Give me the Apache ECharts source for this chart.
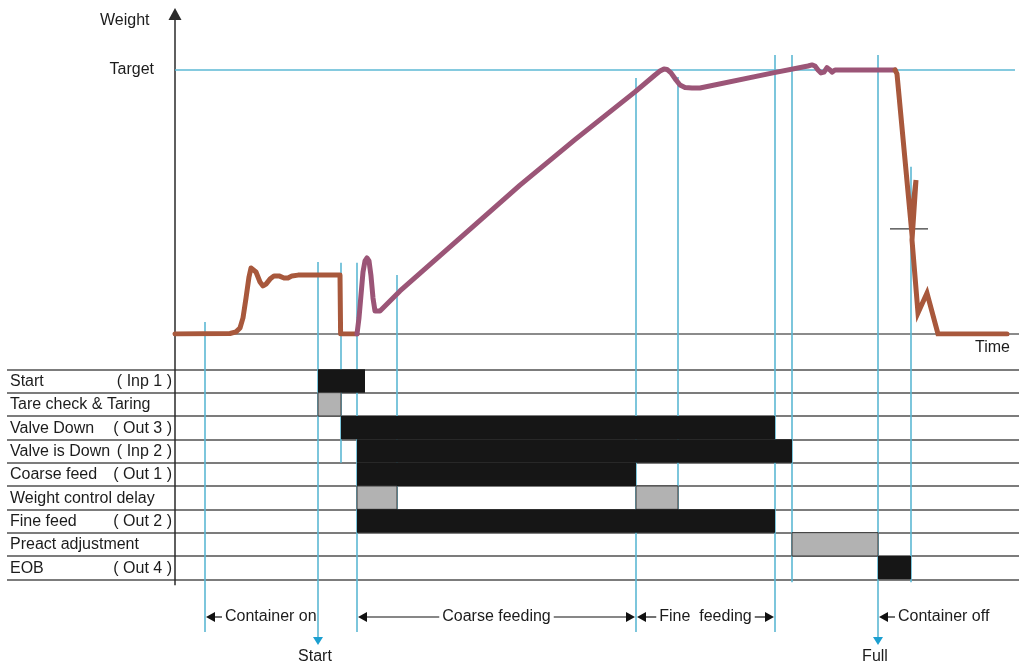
<!DOCTYPE html>
<html>
<head>
<meta charset="utf-8">
<script src="https://cdn.jsdelivr.net/npm/echarts@6/dist/echarts.min.js"></script>
<style>
  html, body { margin: 0; padding: 0; background: #ffffff; }
  #chart { width: 1019px; height: 666px; }
</style>
</head>
<body>
<div id="chart"></div>
<script>
// ---- Signal rows of the filling cycle ----
const rowNames = ['Start', 'Tare check & Taring', 'Valve Down', 'Valve is Down', 'Coarse feed',
                  'Weight control delay', 'Fine feed', 'Preact adjustment', 'EOB'];
const rowPorts = ['( Inp 1 )', '', '( Out 3 )', '( Inp 2 )', '( Out 1 )', '', '( Out 2 )', '', '( Out 4 )'];

// Active periods: [row, on time, off time, 1 = I/O signal / 0 = internal timer]
const signalBlocks = [
  [0, 7.15, 9.5, 1],
  [1, 7.15, 8.3, 0],
  [2, 8.3, 30.0, 1],
  [3, 9.1, 30.85, 1],
  [4, 9.1, 23.05, 1],
  [5, 9.1, 11.1, 0],
  [5, 23.05, 25.15, 0],
  [6, 9.1, 30.0, 1],
  [7, 30.85, 35.15, 0],
  [8, 35.15, 36.8, 1]
];

// Event markers: time, weight where the marker starts, how far down it reaches
const markerTimes = [1.5, 7.15, 8.3, 9.1, 11.1, 23.05, 25.15, 30.0, 30.85, 35.15, 36.8];
const markerTops  = [4.5, 27.3, 27.0, 27.0, 22.3, 97.0, 97.3, 105.7, 105.7, 105.7, 63.3];
const markerEnds  = ['phase', 'event', 4, 'phase', 6, 'phase', 6, 'phase', 9, 'event', 9];
const eventNames  = ['', 'Start', '', '', '', '', '', '', '', 'Full', ''];

// Process phases shown under the timing rows
const phaseNames = ['Container on', 'Coarse feeding', 'Fine  feeding', 'Container off'];
const phaseFrom  = [1.5, 9.1, 23.05, 35.15];
const phaseTo    = [null, 23.05, 30.0, null];

// Weight traces: [time, weight] with target = 100
const containerTrace = [[0, 0], [2.75, 0.2], [3.05, 0.8], [3.25, 2.3], [3.4, 6.1], [3.55, 13.6],
  [3.7, 21.6], [3.8, 25.0], [3.9, 25.4], [4.05, 23.5], [4.25, 19.7], [4.4, 18.2], [4.55, 18.9],
  [4.75, 20.8], [4.95, 22.0], [5.2, 22.0], [5.45, 21.2], [5.65, 21.2], [5.85, 22.0], [6.15, 22.3],
  [8.25, 22.3], [8.28, 0], [9.1, 0]];
const fillTrace = [[9.1, 0], [9.2, 6.1], [9.3, 14.8], [9.4, 23.5], [9.5, 27.7], [9.6, 28.8],
  [9.7, 27.7], [9.8, 22.0], [9.9, 13.6], [10.0, 8.7], [10.1, 8.0], [10.25, 8.7], [11.25, 16.3],
  [13.75, 33.0], [17.25, 56.4], [20.0, 73.6], [23.0, 91.7], [24.0, 98.1], [24.25, 99.6], [24.45, 100.4],
  [24.6, 100.2], [24.8, 98.9], [25.05, 96.2], [25.25, 94.3], [25.5, 93.4], [25.85, 93.2],
  [26.25, 93.2], [29.9, 98.9], [31.65, 101.5], [31.85, 101.9], [32.0, 101.5], [32.15, 100],
  [32.3, 98.9], [32.45, 99.2], [32.6, 100.9], [32.75, 100], [32.85, 99.2], [33.0, 100], [36.0, 100]];
const dischargeTrace = [[36.0, 100], [36.1, 98.5], [36.8, 41.7], [37.05, 58.3], [36.85, 35.6],
  [37.15, 8.0], [37.6, 15.5], [38.15, 0], [41.6, 0]];
const targetWeight = 100;
const targetSpan = [0, 42.0];
const emptyLevel = 39.8;
const emptySpan = [35.75, 37.65];

// ---- Layout ----
const W = 1019;
const AXIS_X = 175;           // left edge of the time axis
const ROW_LEFT = 7;           // row rules start here
const T_MAX = 42.2;
const W_MAX = 121.2;
const PLOT_TOP = 14, PLOT_H = 320;
const ROWS_TOP = 369.33, ROW_H = 23.333;
const PHASE_Y = 617;
const EVENT_Y = 657;
const PX_PER_T = (W - AXIS_X) / T_MAX;
const ROW_T_MIN = -(AXIS_X - ROW_LEFT) / PX_PER_T;

const FONT = 'Liberation Sans, Arial, sans-serif';
const FS = 16;
const TXT = '#1c1c1c';
const BLUE = '#5cb8d4';
const BLUE_ARROW = '#1c9fd0';
const RULE = '#505050';

const measureCtx = document.createElement('canvas').getContext('2d');
measureCtx.font = FS + 'px ' + FONT;
const textWidth = s => measureCtx.measureText(s).width;

const chart = echarts.init(document.getElementById('chart'), null, { renderer: 'canvas' });

function arrowHead(tipX, y, dir) {
  // dir = -1 points left, +1 points right
  const L = 9, H = 5;
  return {
    type: 'polygon',
    shape: { points: [[tipX, y], [tipX - dir * L, y - H], [tipX - dir * L, y + H]] },
    style: { fill: '#111' }
  };
}

function label(text, x, y, align) {
  return { type: 'text', x: x, y: y,
           style: { text: text, font: FS + 'px ' + FONT, fill: TXT, align: align, verticalAlign: 'middle' } };
}

const option = {
  animation: false,
  backgroundColor: '#ffffff',
  textStyle: { fontFamily: FONT },
  grid: [
    { left: AXIS_X, right: 0, top: PLOT_TOP, height: PLOT_H, containLabel: false },
    { left: ROW_LEFT, right: 0, top: ROWS_TOP, height: ROW_H * rowNames.length, containLabel: false }
  ],
  xAxis: [
    { gridIndex: 0, type: 'value', min: 0, max: T_MAX,
      axisLine: { show: true, lineStyle: { color: '#666', width: 1.5 } },
      axisTick: { show: false }, axisLabel: { show: false }, splitLine: { show: false } },
    { gridIndex: 1, type: 'value', min: ROW_T_MIN, max: T_MAX, show: false }
  ],
  yAxis: [
    { gridIndex: 0, type: 'value', min: 0, max: W_MAX,
      axisLine: { show: true, symbol: ['none', 'triangle'], symbolSize: [13, 12],
                  lineStyle: { color: '#2a2a2a', width: 1.5 } },
      axisTick: { show: false }, splitLine: { show: false },
      axisLabel: { show: true, customValues: [targetWeight], formatter: () => 'Target',
                   margin: 21, fontSize: FS, color: TXT, fontFamily: FONT } },
    { gridIndex: 1, type: 'category', data: rowNames, inverse: true,
      axisLine: { show: false }, axisTick: { show: false }, axisLabel: { show: false },
      splitLine: { show: true, lineStyle: { color: RULE, width: 1.5 } } }
  ],
  graphic: [
    { type: 'text', left: 100, top: 13, style: { text: 'Weight', font: FS + 'px ' + FONT, fill: TXT } },
    { type: 'text', left: 975, top: 340, style: { text: 'Time', font: FS + 'px ' + FONT, fill: TXT } }
  ],
  series: [
    // vertical axis continued through the signal rows
    {
      type: 'custom', xAxisIndex: 0, yAxisIndex: 0, z: 3, silent: true,
      data: [[0, 0]],
      renderItem(params, api) {
        const p = api.coord([api.value(0), api.value(1)]);
        return { type: 'line', shape: { x1: p[0], y1: p[1], x2: p[0], y2: ROWS_TOP + ROW_H * rowNames.length + 6 },
                 style: { stroke: '#2a2a2a', lineWidth: 1.5 } };
      }
    },
    // target weight
    {
      type: 'line', xAxisIndex: 0, yAxisIndex: 0, z: 2, silent: true, symbol: 'none',
      data: targetSpan.map(t => [t, targetWeight]),
      lineStyle: { color: BLUE, width: 1.5 }
    },
    // event markers
    {
      type: 'custom', xAxisIndex: 0, yAxisIndex: 0, z: 2, silent: true,
      data: markerTimes.map((t, i) => [t, markerTops[i]]),
      renderItem(params, api) {
        const i = params.dataIndex;
        const p = api.coord([api.value(0), api.value(1)]);
        const end = markerEnds[i];
        let y2;
        if (end === 'phase') y2 = PHASE_Y + 15;
        else if (end === 'event') y2 = EVENT_Y - 19;
        else y2 = ROWS_TOP + end * ROW_H + (end === rowNames.length ? 3 : 0);
        const kids = [{ type: 'line', shape: { x1: p[0], y1: p[1], x2: p[0], y2: y2 },
                        style: { stroke: BLUE, lineWidth: 1.6 } }];
        if (end === 'event') {
          kids.push({ type: 'polygon', shape: { points: [[p[0] - 5, y2 - 1], [p[0] + 5, y2 - 1], [p[0], y2 + 7]] },
                      style: { fill: BLUE_ARROW } });
          kids.push(label(eventNames[i], p[0] - 3, EVENT_Y, 'center'));
        }
        return { type: 'group', children: kids };
      }
    },
    // row labels
    {
      type: 'custom', xAxisIndex: 1, yAxisIndex: 1, z: 4, silent: true,
      data: rowNames.map((n, i) => [0, i]),
      renderItem(params, api) {
        const i = params.dataIndex;
        const p = api.coord([0, i]);
        const kids = [label(rowNames[i], params.coordSys.x + 3, p[1] + 0.5, 'left')];
        if (rowPorts[i]) kids.push(label(rowPorts[i], p[0] - 3, p[1] + 0.5, 'right'));
        return { type: 'group', children: kids };
      }
    },
    // signal blocks
    {
      type: 'custom', xAxisIndex: 1, yAxisIndex: 1, z: 5, silent: true,
      encode: { x: [1, 2], y: 0 },
      data: signalBlocks,
      renderItem(params, api) {
        const row = api.value(0);
        const a = api.coord([api.value(1), row]);
        const b = api.coord([api.value(2), row]);
        const h = api.size([0, 1])[1];
        const io = api.value(3) === 1;
        return {
          type: 'rect',
          shape: { x: a[0], y: a[1] - h / 2, width: b[0] - a[0], height: h },
          style: io ? { fill: '#161616' } : { fill: '#b2b2b2', stroke: '#3a3a3a', lineWidth: 1 }
        };
      }
    },
    // phase annotations
    {
      type: 'custom', xAxisIndex: 0, yAxisIndex: 0, z: 5, silent: true,
      data: phaseFrom.map(t => [t, 0]),
      renderItem(params, api) {
        const i = params.dataIndex;
        const x1 = api.coord([phaseFrom[i], 0])[0];
        const y = PHASE_Y;
        const w = textWidth(phaseNames[i]);
        const kids = [];
        const lineStyle = { stroke: '#111', lineWidth: 1.2 };
        if (phaseTo[i] == null) {
          const tx = x1 + 20;
          kids.push(arrowHead(x1 + 1, y, -1));
          kids.push({ type: 'line', shape: { x1: x1 + 5, y1: y, x2: tx - 3, y2: y }, style: lineStyle });
          kids.push(label(phaseNames[i], tx, y, 'left'));
        } else {
          const x2 = api.coord([phaseTo[i], 0])[0];
          const mid = (x1 + x2) / 2;
          kids.push(arrowHead(x1 + 1, y, -1));
          kids.push(arrowHead(x2 - 1, y, 1));
          kids.push({ type: 'line', shape: { x1: x1 + 5, y1: y, x2: mid - w / 2 - 3, y2: y }, style: lineStyle });
          kids.push({ type: 'line', shape: { x1: mid + w / 2 + 3, y1: y, x2: x2 - 5, y2: y }, style: lineStyle });
          kids.push(label(phaseNames[i], mid, y, 'center'));
        }
        return { type: 'group', children: kids };
      }
    },
    // empty-container check level
    {
      type: 'line', xAxisIndex: 0, yAxisIndex: 0, z: 6, silent: true, symbol: 'none',
      data: emptySpan.map(t => [t, emptyLevel]),
      lineStyle: { color: '#3a3a3a', width: 1.2 }
    },
    // weight traces
    {
      type: 'line', xAxisIndex: 0, yAxisIndex: 0, z: 7, silent: true, symbol: 'none',
      data: containerTrace,
      lineStyle: { color: '#a8583c', width: 5, cap: 'round', join: 'round' }
    },
    {
      type: 'line', xAxisIndex: 0, yAxisIndex: 0, z: 7, silent: true, symbol: 'none',
      data: fillTrace,
      lineStyle: { color: '#9b5577', width: 5, cap: 'round', join: 'round' }
    },
    {
      type: 'line', xAxisIndex: 0, yAxisIndex: 0, z: 7, silent: true, symbol: 'none',
      data: dischargeTrace,
      lineStyle: { color: '#a8583c', width: 5, cap: 'round', join: 'miter' }
    }
  ]
};

chart.setOption(option);
</script>
</body>
</html>
